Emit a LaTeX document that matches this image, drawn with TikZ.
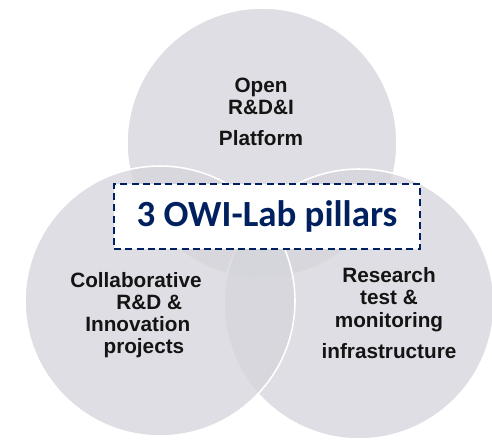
\documentclass[tikz,border=0pt]{standalone}
\usepackage{fontspec}
\setmainfont{Liberation Sans}
\newfontfamily\titlefont{Carlito}
\usetikzlibrary{positioning}
\definecolor{owinavy}{RGB}{0,32,96}
\definecolor{pillargray}{RGB}{212,212,219}

\begin{document}
\begin{tikzpicture}[x=0.02cm,y=-0.02cm,
    pillar/.style={circle,minimum size=5.4cm,inner sep=0pt,fill=pillargray,fill opacity=0.76,draw=white,line width=0.9pt},
    pillartext/.style={align=center,inner sep=0pt,text=black!92,font=\fontsize{11.8}{12.6}\selectfont\bfseries},
    titlebox/.style={draw=owinavy,fill=white,line width=1.1pt,dash pattern=on 4pt off 2.4pt,minimum width=6.12cm,minimum height=1.3cm,text=owinavy,font=\titlefont\fontsize{21}{24}\selectfont\bfseries}]
  \useasboundingbox (0,0) rectangle (492,439);
  % three overlapping pillars, the left one drawn last
  \node[pillar] (platform) at (262,143) {};
  \node[pillar] (infra) at (359,304) {};
  \node[pillar] (projects) at (160,301) {};
  \node[pillartext] (platformtxt) at (261,112) {Open\\R\&D\&I\\[5pt]Platform};
  \node[pillartext] (projectstxt) at (136,315) {Collaborative\\\hspace*{15pt}R\&D \&\\\hspace*{2pt}Innovation\\\hspace*{9pt}projects};
  \node[pillartext] (infratxt) at (389,313) {Research\\test \&\\monitoring\\[5pt]infrastructure};
  \node[titlebox] (title) at (267,216.5) {3 OWI-Lab pillars};
\end{tikzpicture}
\end{document}
